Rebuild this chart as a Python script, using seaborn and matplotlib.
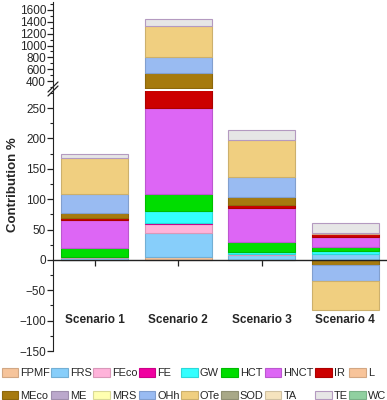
import numpy as np
import pandas as pd
import matplotlib
matplotlib.use("Agg")
import matplotlib.pyplot as plt
import matplotlib.colors as mcolors
from matplotlib.patches import Patch
from matplotlib.lines import Line2D
from matplotlib.ticker import MultipleLocator
import seaborn as sns

# data (contribution %, per impact category)
scenarios = ["Scenario 1", "Scenario 2", "Scenario 3", "Scenario 4"]
categories = ["FPMF", "FRS", "FEco", "FE", "GW", "HCT", "HNCT", "IR", "L",
              "MEco", "ME", "MRS", "OHh", "OTe", "SOD", "TA", "TE", "WC"]

FPMF = [0.5, 5.5, 0.5, 0]
FRS = [3, 38.5, 7.5, 10]
FEco = [0.5, 15.5, 1, 0]
FE = [0, 1, 0, 0]
GW = [1.5, 19.5, 3.5, 4.5]
HCT = [13.5, 29, 16.5, 6]
HNCT = [47, 141, 56, 16.5]
IR = [3, 30, 5, 5.5]
L = [0, 0, 0, 2.5]
MEco = [8, 255, 14, -8]
ME = [0, 0, 0, 0]
MRS = [0, 0, 0, 0]
OHh = [31, 270, 32, -26]
OTe = [59, 525, 61, -49]
SOD = [0, 0, 0, 0]
TA = [0, 0, 0, 0]
TE = [7, 117, 17, 15]
WC = [0, 0, 0, 0]

series = [FPMF, FRS, FEco, FE, GW, HCT, HNCT, IR, L,
          MEco, ME, MRS, OHh, OTe, SOD, TA, TE, WC]

palette = {
    "FPMF": "#F6C49B", "FRS": "#87CEFA", "FEco": "#FFB3DA", "FE": "#F000A0",
    "GW": "#33FFFF", "HCT": "#00DD00", "HNCT": "#DD66F5", "IR": "#CC0000",
    "L": "#F8C49A", "MEco": "#A67A0E", "ME": "#BBA8CC", "MRS": "#FFFFB0",
    "OHh": "#99BBF2", "OTe": "#F0CF80", "SOD": "#A8A888", "TA": "#F5E3BE",
    "TE": "#E6E6E6", "WC": "#90D0A0",
}


def edge_of(name):
    if name == "TE":
        return "#B49AC0"
    r, g, b = mcolors.to_rgb(palette[name])
    return (r * 0.85, g * 0.85, b * 0.85)


sns.set_style("ticks")
plt.rcParams["font.family"] = ["Liberation Sans", "DejaVu Sans"]
plt.rcParams["axes.edgecolor"] = "#222222"

W, H = 387, 400
fig = plt.figure(figsize=(W / 100, H / 100), dpi=100)
x0 = 53 / W
ax_top = fig.add_axes([x0, 1 - 89 / H, 1 - x0, (89 - 2) / H])
ax_bot = fig.add_axes([x0, 1 - 351 / H, 1 - x0, (351 - 91) / H])

pos_base = np.zeros(len(scenarios))
neg_base = np.zeros(len(scenarios))
for name, vals in zip(categories, series):
    vals = np.array(vals, dtype=float)
    bottoms = np.where(vals >= 0, pos_base, neg_base)
    keep = vals != 0
    if keep.any():
        df = pd.DataFrame({"scenario": np.array(scenarios)[keep], "value": vals[keep]})
        for ax in (ax_top, ax_bot):
            sns.barplot(data=df, x="scenario", y="value", order=scenarios,
                        bottom=bottoms[keep], color=palette[name], saturation=1,
                        width=0.8, errorbar=None, edgecolor=edge_of(name),
                        linewidth=0.8, ax=ax)
    pos_base += np.where(vals > 0, vals, 0)
    neg_base += np.where(vals < 0, vals, 0)

for ax in (ax_top, ax_bot):
    ax.set_xlim(-0.5, 3.5)
    ax.set_xlabel("")
    ax.set_ylabel("")
    ax.spines["right"].set_visible(False)
    ax.spines["top"].set_visible(False)
    ax.tick_params(axis="y", which="major", length=4, width=0.9,
                   labelsize=8.5, pad=1, color="#222222")
    ax.tick_params(axis="y", which="minor", length=2, width=0.8, color="#222222")

ax_top.set_ylim(265, 1735)
ax_top.yaxis.set_major_locator(MultipleLocator(200))
ax_top.yaxis.set_minor_locator(MultipleLocator(100))
ax_top.set_yticks([400, 600, 800, 1000, 1200, 1400, 1600])
ax_top.spines["bottom"].set_visible(False)
ax_top.tick_params(axis="x", bottom=False, labelbottom=False)

ax_bot.set_ylim(-150, 278)
ax_bot.set_yticks([-150, -100, -50, 0, 50, 100, 150, 200, 250])
ax_bot.yaxis.set_minor_locator(MultipleLocator(25))
ax_bot.spines["bottom"].set_position(("data", 0))
ax_bot.spines["bottom"].set_linewidth(1.0)
ax_bot.tick_params(axis="x", length=4, width=0.9, pad=35, labelsize=8.5,
                   color="#222222")
for lab in ax_bot.get_xticklabels():
    lab.set_fontweight("bold")

# axis break marks
for dy in (-2, 2):
    fig.add_artist(Line2D([48 / W, 58 / W],
                          [1 - (94 + dy) / H, 1 - (84 + dy) / H],
                          color="#222222", lw=0.9))

fig.text(13 / W, 1 - 185 / H, "Contribution %", rotation=90, ha="center",
         va="center", fontsize=9.5, fontweight="bold")

handles = [Patch(facecolor=palette[c], edgecolor=edge_of(c), linewidth=0.8)
           for c in categories]
order = []
for i in range(9):
    order += [i, i + 9]
fig.legend([handles[i] for i in order], [categories[i] for i in order],
           ncol=9, loc="lower left", bbox_to_anchor=(0.0, -0.006),
           frameon=False, fontsize=7.9, handlelength=1.5, handleheight=0.8,
           handletextpad=0.2, columnspacing=0.12, labelspacing=1.15,
           borderpad=0.15, borderaxespad=0)

fig.savefig("out.png", dpi=100)
